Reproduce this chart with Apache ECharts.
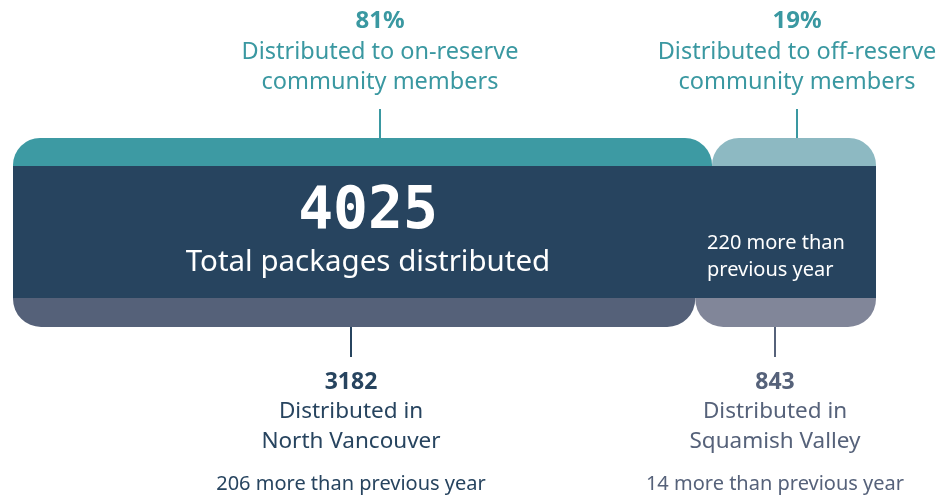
<!DOCTYPE html>
<html>
<head>
<meta charset="utf-8">
<script src="https://cdn.jsdelivr.net/npm/echarts@6/dist/echarts.min.js"></script>
<style>
  html, body { margin: 0; padding: 0; background: #fff; }
  #chart { width: 946px; height: 498px; }
</style>
</head>
<body>
<div id="chart"></div>
<script>
const total = 4025;
const totalLabel = "Total packages distributed";
const totalNote = ["220 more than", "previous year"];

const shareNames = ["On-reserve", "Off-reserve"];
const shareValues = [81, 19];
const shareTitles = ["81%", "19%"];
const shareLabels = [
    ["Distributed to on-reserve", "community members"],
    ["Distributed to off-reserve", "community members"]
];

const regionNames = ["North Vancouver", "Squamish Valley"];
const regionValues = [3182, 843];
const regionLabels = [
    ["Distributed in", "North Vancouver"],
    ["Distributed in", "Squamish Valley"]
];
const regionNotes = ["206 more than previous year", "14 more than previous year"];

const shareColors = ["#3d9aa3", "#8db9c2"];
const regionColors = ["#556179", "#818699"];
const navy = "#27445f";
const teal = "#3a98a1";
const font = "'Noto Sans', 'Open Sans', sans-serif";

const chart = echarts.init(document.getElementById("chart"));

const left = 13;
const width = 863;
const grids = [
    { left, width, top: 138, height: 28 },
    { left, width, top: 166, height: 132 },
    { left, width, top: 298, height: 29 }
];

const hiddenX = (index, max) => ({ type: "value", gridIndex: index, min: 0, max, show: false });
const hiddenY = (index) => ({ type: "category", gridIndex: index, data: ["row"], show: false });

const series = [];
shareValues.forEach((value, i) => {
    series.push({
        name: shareNames[i],
        type: "bar",
        stack: "share",
        xAxisIndex: 0,
        yAxisIndex: 0,
        barWidth: "100%",
        data: [value],
        itemStyle: { color: shareColors[i], borderRadius: [27, 27, 0, 0] },
        silent: true
    });
});
series.push({
    name: "Total",
    type: "bar",
    xAxisIndex: 1,
    yAxisIndex: 1,
    barWidth: "100%",
    data: [total],
    itemStyle: { color: navy },
    silent: true
});
regionValues.forEach((value, i) => {
    series.push({
        name: regionNames[i],
        type: "bar",
        stack: "region",
        xAxisIndex: 2,
        yAxisIndex: 2,
        barWidth: "100%",
        data: [value],
        itemStyle: { color: regionColors[i], borderRadius: [0, 0, 28, 28] },
        silent: true
    });
});

// annotation helpers, drawn above the bars
const text = (x, y, str, style) => ({
    type: "text",
    x,
    y,
    z: 100,
    silent: true,
    style: Object.assign({ text: str, align: "center", verticalAlign: "middle", fontFamily: font }, style)
});
const vline = (x, y1, y2, color) => ({
    type: "line",
    z: 100,
    silent: true,
    shape: { x1: x, y1, x2: x, y2 },
    style: { stroke: color, lineWidth: 2 }
});

const topX = [380, 797];
const bottomX = [351, 775];
const bottomColors = ["#27445f", "#56627a"];

const graphics = [];
topX.forEach((x, i) => {
    graphics.push(text(x, 21, shareTitles[i], { fill: teal, fontSize: 24, fontWeight: "bold" }));
    graphics.push(text(x, 52, shareLabels[i][0], { fill: teal, fontSize: 23.5 }));
    graphics.push(text(x, 82, shareLabels[i][1], { fill: teal, fontSize: 23.5 }));
    graphics.push(vline(x, 109, 138, teal));
});
bottomX.forEach((x, i) => {
    graphics.push(vline(x, 327, 357, bottomColors[i]));
    graphics.push(text(x, 382, String(regionValues[i]), { fill: bottomColors[i], fontSize: 23, fontWeight: "bold" }));
    graphics.push(text(x, 412, regionLabels[i][0], { fill: bottomColors[i], fontSize: 22.5 }));
    graphics.push(text(x, 442, regionLabels[i][1], { fill: bottomColors[i], fontSize: 22.5 }));
    graphics.push(text(x, 484, regionNotes[i], { fill: bottomColors[i], fontSize: 20 }));
});
graphics.push(text(368, 213, String(total), {
    fill: "#fff", fontSize: 58, fontWeight: "bold", fontFamily: "'DejaVu Sans Mono', monospace"
}));
graphics.push(text(368, 263, totalLabel, { fill: "#fff", fontSize: 29.5 }));
graphics.push(text(707, 243, totalNote[0], { fill: "#fff", fontSize: 20, align: "left" }));
graphics.push(text(707, 270, totalNote[1], { fill: "#fff", fontSize: 20, align: "left" }));

chart.setOption({
    animation: false,
    grid: grids,
    xAxis: [hiddenX(0, 100), hiddenX(1, total), hiddenX(2, total)],
    yAxis: [hiddenY(0), hiddenY(1), hiddenY(2)],
    series,
    graphic: graphics
});
</script>
</body>
</html>
